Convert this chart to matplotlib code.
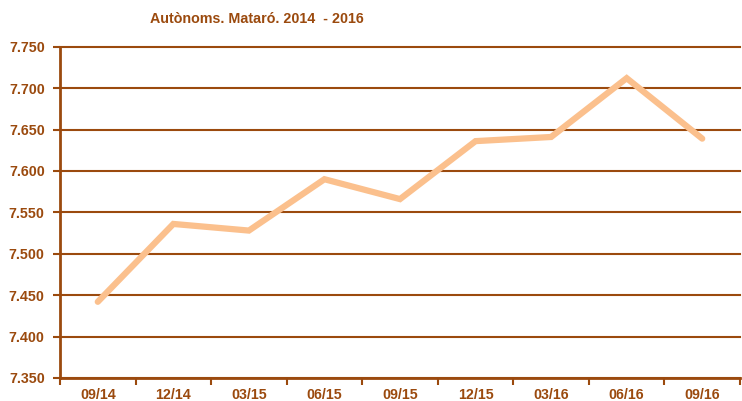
import matplotlib
matplotlib.use("Agg")
import matplotlib.pyplot as plt
from matplotlib.ticker import FuncFormatter, FixedLocator

categories = ["09/14", "12/14", "03/15", "06/15", "09/15", "12/15", "03/16", "06/16", "09/16"]
values = [7442, 7536, 7528, 7590, 7566, 7636, 7641, 7712, 7639]
yticks = [7350, 7400, 7450, 7500, 7550, 7600, 7650, 7700, 7750]
title = "Autònoms. Mataró. 2014  - 2016"

brown = "#9B4A0E"
peach = "#FBC08D"

plt.rcParams['font.family'] = ['Liberation Sans', 'DejaVu Sans']

fig = plt.figure(figsize=(7.42, 4.01), dpi=100)
ax = fig.add_axes([60/742, 1-378/401, 680/742, (378-46.7)/401])

x = list(range(len(categories)))
ax.plot(x, values, color=peach, lw=4.5, solid_capstyle='round', solid_joinstyle='miter', zorder=3)

ax.set_xlim(-0.5, len(categories) - 0.5)
ax.set_ylim(yticks[0], yticks[-1])
ax.set_yticks(yticks)
ax.yaxis.set_major_formatter(FuncFormatter(lambda v, p: f"{int(v):,}".replace(",", ".")))
ax.set_xticks(x)
ax.set_xticklabels(categories)
ax.xaxis.set_minor_locator(FixedLocator([i - 0.5 for i in range(len(categories) + 1)]))

ax.grid(axis='y', color=brown, lw=1.5, zorder=1)
for gl in ax.get_ygridlines():
    gl.set_clip_on(False)
ax.tick_params(axis='x', which='major', length=0, pad=7, labelcolor=brown, labelsize=10.3)
ax.tick_params(axis='x', which='minor', length=5, width=1.5, color=brown, direction='out')
ax.tick_params(axis='y', length=5, width=1.5, color=brown, direction='out', labelcolor=brown, labelsize=10.3, pad=6)
for lbl in ax.get_xticklabels() + ax.get_yticklabels():
    lbl.set_fontweight('bold')

for s in ['top', 'right']:
    ax.spines[s].set_visible(False)
for s in ['left', 'bottom']:
    ax.spines[s].set_color(brown)
    ax.spines[s].set_linewidth(2)

fig.text(257/742, 1-19/401, title, ha='center', va='center', color=brown, fontsize=10.3,
         fontweight='bold')

fig.savefig("out.png", dpi=100)
